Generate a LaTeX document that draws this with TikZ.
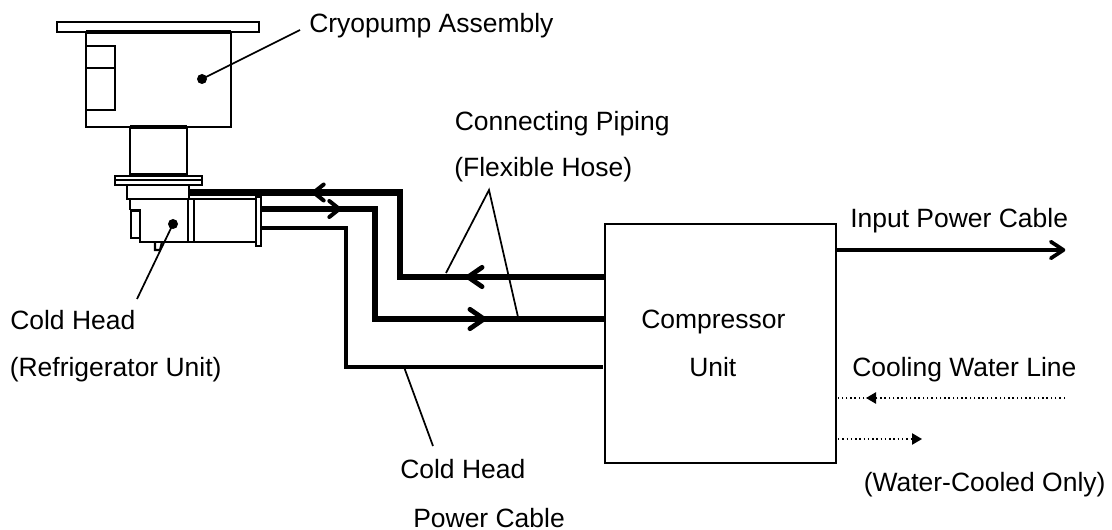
\documentclass[tikz,border=0pt]{standalone}
\usepackage{fontspec}
\setmainfont{Liberation Sans}
\usetikzlibrary{arrows.meta}
\tikzset{
  part/.style={draw=black,line width=1.5pt,inner sep=0pt,minimum size=0pt},
  compbox/.style={draw=black,line width=1.5pt,inner sep=0pt,outer sep=0pt,minimum width=173.25pt,minimum height=179.25pt},
  lbl/.style={anchor=base west,inner sep=0pt,font=\fontsize{19.85pt}{24pt}\selectfont},
  hose/.style={draw=black,line width=4.8pt,line join=miter},
  cable/.style={draw=black,line width=2.8pt},
  toptip/.style={line width=3pt,-{Straight Barb[length=7.5pt,width=12pt,line width=3pt,round]},shorten >=-1pt},
  lowtip/.style={line width=3.6pt,-{Straight Barb[length=10.5pt,width=14.5pt,line width=3.6pt,round]},shorten >=-1pt},
  powertip/.style={-{Straight Barb[length=9.5pt,width=12.5pt,line width=2.8pt,round]},shorten >=-1pt},
  leader/.style={draw=black,line width=1.3pt},
  dotmark/.style={circle,fill=black,inner sep=0pt,minimum size=7.5pt},
  water/.style={draw=black,line width=1.1pt,dash pattern=on 1.1pt off 2.1pt},
  watertip/.style={-{Triangle[length=7.5pt,width=8.5pt]}},
}
\begin{document}
\begin{tikzpicture}[x=0.75pt,y=-0.75pt]
\useasboundingbox (0,0) rectangle (1112,530);
% Cryopump
\path[part] (57,22) rectangle (259,32);
\path[part] (86,32) rectangle (231,127);
\draw[line width=2.6pt] (86,32) -- (231,32);
\path[part] (86,46) rectangle (115,68);
\path[part] (86,68) rectangle (115,110);
\path[part] (130,127) rectangle (187,175);
\draw[line width=2.4pt] (130,127) -- (187,127);
% flange
\path[part] (115,176) rectangle (202,185);
\draw[line width=1.6pt] (115,180) -- (202,180);
\draw[line width=2.4pt] (130,175) -- (187,175);
\path[part] (127,185) rectangle (189,199);
% cold head
\draw[line width=1.6pt] (130,199) -- (130,210);
\draw[line width=1.8pt] (130,210) -- (140,210) -- (140,242) -- (189,242);
\path[part] (131,211) rectangle (140,238);
\draw[line width=1.6pt] (155,242) -- (155,250) -- (160,250) -- (162,242);
% motor
\path[part] (188,199) rectangle (194,242);
\path[part] (194,199) rectangle (256,242);
\path[part] (256,197) rectangle (261,246);
% compressor
\node[compbox] (comp) at (720.5,343.5) {};
% piping
\coordinate (h1a) at (189,192.5);
\coordinate (h1b) at (400,192.5);
\coordinate (h1c) at (400,277);
\coordinate (h1d) at (comp.west |- 0,277);
\coordinate (h1t) at (313,192.5);
\coordinate (h1m) at (467,277);
\coordinate (h2a) at (261,209);
\coordinate (h2b) at (375,209);
\coordinate (h2c) at (375,319);
\coordinate (h2d) at (comp.west |- 0,319);
\coordinate (h2t) at (340,209);
\coordinate (h2m) at (485,319);
\coordinate (c1a) at (261,228);
\coordinate (c1b) at (346,228);
\coordinate (c1c) at (346,367);
\coordinate (c1d) at (603,367);
\draw[hose] (h1a) -- (h1b) -- (h1c) -- (h1d);
\draw[toptip] (h1b) -- (h1t);
\draw[lowtip] (h1d) -- (h1m);
\draw[hose] (h2a) -- (h2b) -- (h2c) -- (h2d);
\draw[toptip] (h2a) -- (h2t);
\draw[lowtip] (h2c) ++(0,0) |- (h2m);
\draw[cable] (c1a) -- (c1b) -- (c1c) -- (c1d);
% input power
\coordinate (p0) at (comp.east |- 0,250);
\coordinate (p1) at (1064,250);
\draw[cable,powertip] (p0) -- (p1);
% water
\coordinate (w1a) at (1065,398);
\coordinate (w1b) at (838,398);
\coordinate (w1t) at (866,398);
\coordinate (w1s) at (890,398);
\coordinate (w2a) at (838,439);
\coordinate (w2t) at (922,439);
\draw[water] (w1a) -- (w1b);
\draw[water,watertip] (w1s) -- (w1t);
\draw[water,watertip] (w2a) -- (w2t);
% leaders
\node[dotmark] (d1) at (202,79) {};
\node[dotmark] (d2) at (173,224) {};
\coordinate (l1) at (300,30);
\coordinate (l2) at (137,299);
\draw[leader] (d1.center) -- (l1);
\draw[leader] (d2.center) -- (l2);
\coordinate (apex) at (489,190);
\coordinate (a1) at (446,273);
\coordinate (a2) at (518,317);
\draw[leader] (a1) -- (apex) -- (a2);
\coordinate (b1) at (404,367);
\coordinate (b2) at (433,446);
\draw[leader] (b1) -- (b2);
% labels
\node[lbl] (t1) at (309,33) {Cryopump Assembly};
\node[lbl] (t2) at (454.5,131) {Connecting Piping};
\node[lbl] (t3) at (454,177) {(Flexible Hose)};
\node[lbl] (t4) at (850,228) {Input Power Cable};
\node[lbl] (t5) at (641,329) {Compressor};
\node[lbl] (t6) at (689,377) {Unit};
\node[lbl] (t7) at (852,377) {Cooling Water Line};
\node[lbl] (t8) at (863.5,491) {(Water-Cooled Only)};
\node[lbl] (t9) at (10,330) {Cold Head};
\node[lbl] (t10) at (9.5,377) {(Refrigerator Unit)};
\node[lbl] (t11) at (400,478) {Cold Head};
\node[lbl] (t12) at (413,527) {Power Cable};
\end{tikzpicture}
\end{document}
